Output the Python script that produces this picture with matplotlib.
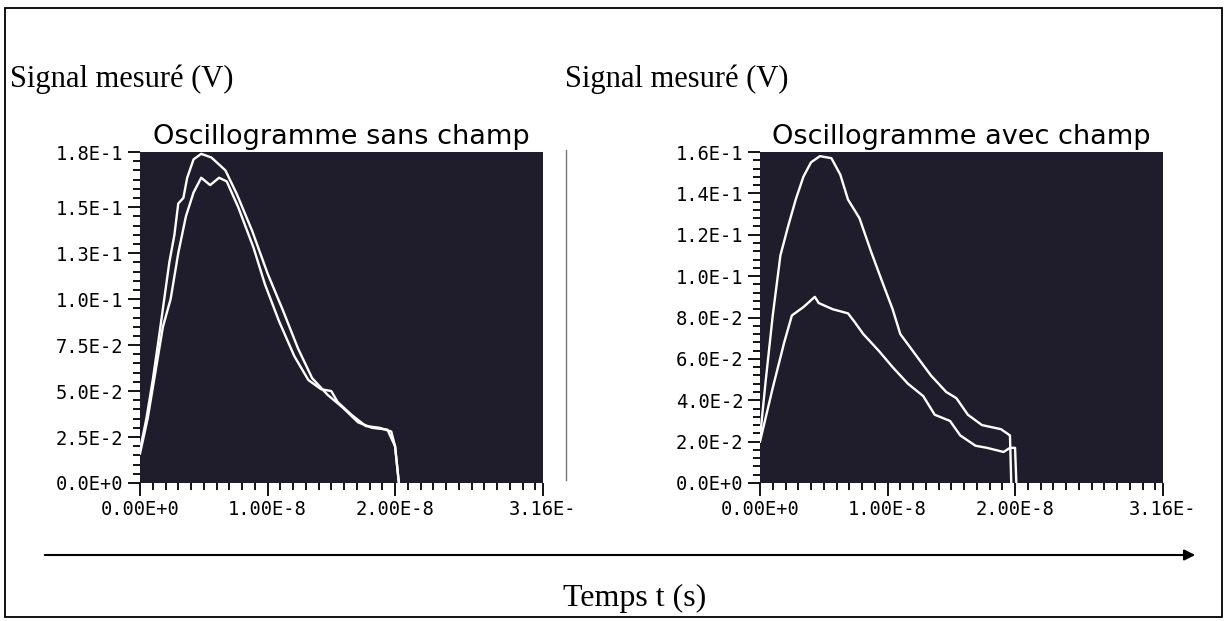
import numpy as np
import matplotlib
matplotlib.use("Agg")
import matplotlib.pyplot as plt
from matplotlib.patches import Rectangle, FancyArrowPatch
from matplotlib.lines import Line2D

# Oscillogramme sans champ (t en ns, signal en V)
t_sans_1 = [0, 0.5, 1.0, 1.5, 1.9, 2.3, 2.7, 3.0, 3.4, 3.7, 4.2, 4.8, 5.6, 6.7, 7.6,
            8.8, 10.0, 11.2, 12.4, 13.5, 14.7, 15.9, 17.1, 18.2, 19.4, 20.0, 20.3]
v_sans_1 = [0.018, 0.035, 0.056, 0.080, 0.100, 0.120, 0.135, 0.152, 0.155, 0.166, 0.176,
            0.179, 0.177, 0.170, 0.157, 0.137, 0.114, 0.094, 0.073, 0.057, 0.048, 0.041,
            0.033, 0.030, 0.029, 0.020, 0.0]
t_sans_2 = [0, 0.6, 1.2, 1.8, 2.4, 3.0, 3.6, 4.2, 4.8, 5.5, 6.2, 6.8, 7.7, 8.9, 9.8,
            10.9, 12.1, 13.2, 14.2, 15.0, 15.5, 16.6, 17.7, 18.8, 19.7, 20.0, 20.3]
v_sans_2 = [0.016, 0.035, 0.060, 0.085, 0.100, 0.125, 0.145, 0.158, 0.166, 0.162, 0.166,
            0.164, 0.150, 0.128, 0.108, 0.088, 0.069, 0.056, 0.051, 0.050, 0.044, 0.037,
            0.031, 0.030, 0.028, 0.020, 0.0]

# Oscillogramme avec champ
t_avec_1 = [0, 0.44, 1.0, 1.6, 2.2, 2.8, 3.4, 4.0, 4.7, 5.6, 6.3, 6.9, 7.8, 8.7, 9.6,
            10.4, 11.0, 12.2, 13.4, 14.6, 15.4, 16.3, 17.4, 18.9, 19.6, 19.7]
v_avec_1 = [0.022, 0.049, 0.081, 0.110, 0.124, 0.137, 0.148, 0.155, 0.158, 0.157, 0.149,
            0.137, 0.128, 0.112, 0.097, 0.084, 0.072, 0.062, 0.052, 0.044, 0.041, 0.033,
            0.028, 0.026, 0.023, 0.0]
t_avec_2 = [0, 1.0, 1.9, 2.5, 3.4, 4.3, 4.6, 5.7, 6.9, 7.4, 8.1, 9.3, 10.4, 11.6, 12.8,
            13.7, 14.9, 15.7, 16.9, 17.8, 19.1, 19.6, 20.0, 20.1]
v_avec_2 = [0.020, 0.046, 0.068, 0.081, 0.085, 0.090, 0.087, 0.084, 0.082, 0.078, 0.072,
            0.064, 0.056, 0.048, 0.042, 0.033, 0.030, 0.023, 0.018, 0.017, 0.015, 0.017,
            0.017, 0.0]

x_ticks = [0, 1e-8, 2e-8, 3.16e-8]
x_labels = ["0.00E+0", "1.00E-8", "2.00E-8", "3.16E-"]
y_ticks_sans = [0, 0.025, 0.05, 0.075, 0.1, 0.125, 0.15, 0.18]
y_labels_sans = ["0.0E+0", "2.5E-2", "5.0E-2", "7.5E-2", "1.0E-1", "1.3E-1", "1.5E-1", "1.8E-1"]
y_ticks_avec = [0, 0.02, 0.04, 0.06, 0.08, 0.10, 0.12, 0.14, 0.16]
y_labels_avec = ["0.0E+0", "2.0E-2", "4.0E-2", "6.0E-2", "8.0E-2", "1.0E-1", "1.2E-1", "1.4E-1", "1.6E-1"]

W, H = 1226, 621
fig = plt.figure(figsize=(W / 100, H / 100), dpi=100)
fig.patch.set_facecolor("white")


def setup(ax, title, yt, yl, ytop, yminor):
    ax.set_facecolor("#1f1d2c")
    for s in ax.spines.values():
        s.set_visible(False)
    ax.set_xlim(0, 3.16e-8)
    ax.set_ylim(0, ytop)
    ax.set_xticks(x_ticks)
    ax.set_xticklabels(x_labels)
    ax.set_xticks(np.arange(0, 3.16e-8, 1e-9), minor=True)
    ax.set_yticks(yt)
    ax.set_yticklabels(yl)
    ax.set_yticks(np.arange(0, ytop, yminor), minor=True)
    ax.tick_params(which="both", direction="out", color="black", width=1.3, pad=3)
    ax.tick_params(which="major", length=9)
    ax.tick_params(which="minor", length=5)
    for lab in ax.get_xticklabels() + ax.get_yticklabels():
        lab.set_family("DejaVu Sans Mono")
        lab.set_fontsize(13.5)
    ax.set_title(title, fontsize=19.5, pad=6)


ax1 = fig.add_axes([140 / W, 1 - 483 / H, 403 / W, 331 / H])
setup(ax1, "Oscillogramme sans champ", y_ticks_sans, y_labels_sans, 0.18, 0.005)
ax1.plot(np.array(t_sans_1) * 1e-9, v_sans_1, color="white", lw=1.7)
ax1.plot(np.array(t_sans_2) * 1e-9, v_sans_2, color="white", lw=1.7)

ax2 = fig.add_axes([760 / W, 1 - 483 / H, 403 / W, 331 / H])
setup(ax2, "Oscillogramme avec champ", y_ticks_avec, y_labels_avec, 0.16, 0.004)
ax2.plot(np.array(t_avec_1) * 1e-9, v_avec_1, color="white", lw=1.7)
ax2.plot(np.array(t_avec_2) * 1e-9, v_avec_2, color="white", lw=1.7)

serif = "Liberation Serif"
fig.text(10 / W, 1 - 87 / H, "Signal mesuré (V)", family=serif, fontsize=22, va="baseline")
fig.text(565 / W, 1 - 87 / H, "Signal mesuré (V)", family=serif, fontsize=22, va="baseline")
fig.text(635 / W, 1 - 606 / H, "Temps t (s)", family=serif, fontsize=23, va="baseline", ha="center")

# cadre, séparateur et flèche du temps
fig.add_artist(Rectangle((5 / W, 1 - 617 / H), 1217 / W, 609 / H, transform=fig.transFigure,
                         fill=False, edgecolor="black", lw=1.3))
fig.add_artist(Line2D([566 / W, 566 / W], [1 - 150 / H, 1 - 480 / H], transform=fig.transFigure,
                      color="#777777", lw=1.0))
fig.add_artist(FancyArrowPatch((42 / W, 1 - 555 / H), (1198 / W, 1 - 555 / H),
                               transform=fig.transFigure, arrowstyle="-|>",
                               mutation_scale=16, color="black", lw=1.5))

fig.savefig("out.png", dpi=100)
